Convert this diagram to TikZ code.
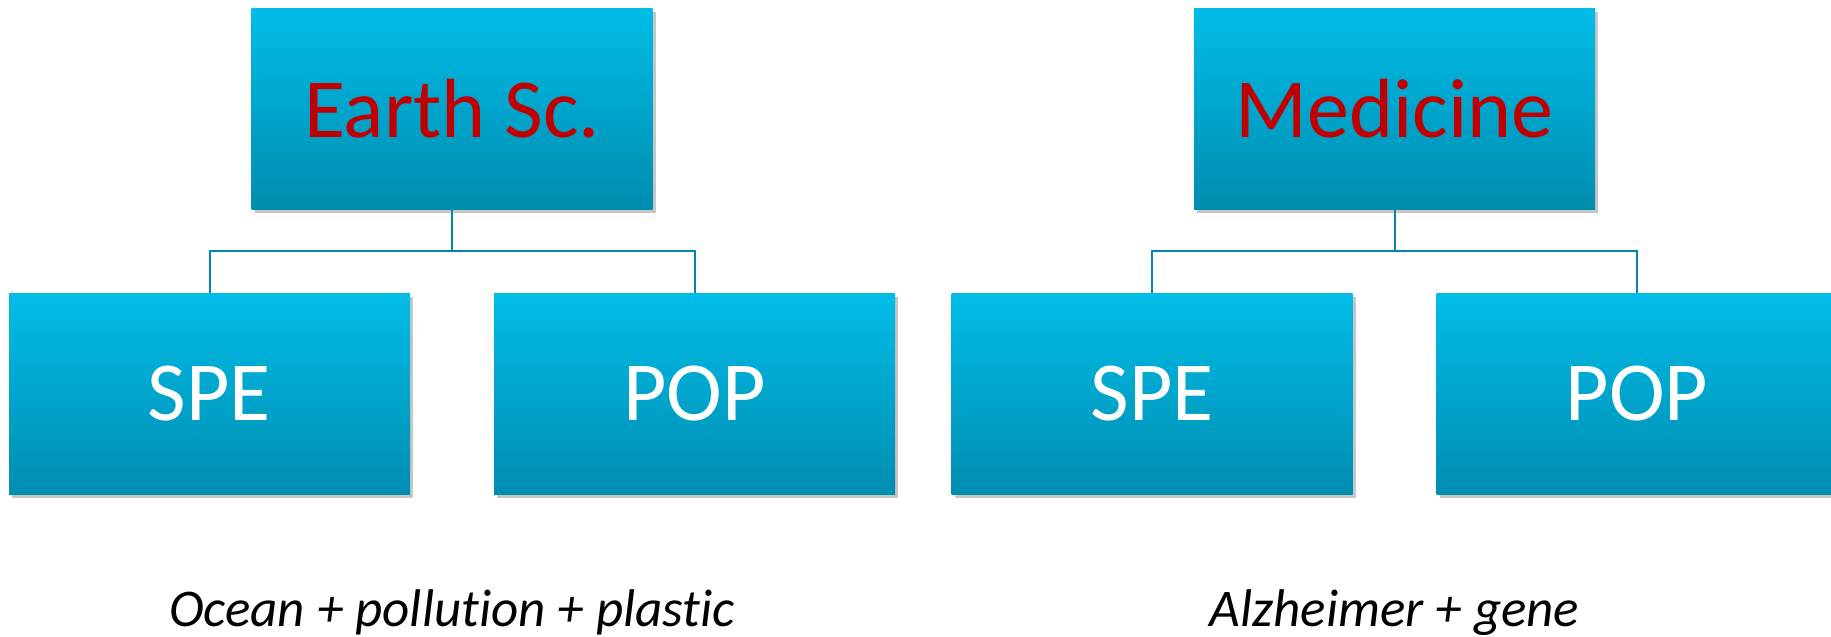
\documentclass[tikz,border=0pt]{standalone}
\usepackage{fontspec}
\setmainfont{Carlito}[Ligatures=NoCommon]
\usepackage{xcolor}
\usepackage{tikz}
\usetikzlibrary{positioning, shadows}
\definecolor{boxtop}{HTML}{00BDE8}
\definecolor{boxbottom}{HTML}{008DB0}
\definecolor{linkcol}{HTML}{0088A6}
\definecolor{headred}{HTML}{C00000}

\begin{document}
\begin{tikzpicture}[
    x=0.5pt, y=-0.5pt,
    box/.style={top color=boxtop, bottom color=boxbottom, minimum width=200.5pt, minimum height=100.5pt, inner sep=0pt,
        drop shadow={shadow xshift=1.5pt, shadow yshift=-2pt, opacity=0.22, fill=black}},
    head/.style={box, text=headred, font=\fontsize{42}{48}\selectfont},
    leaf/.style={box, text=white, font=\fontsize{42}{48}\selectfont},
    topic/.style={font=\fontsize{26.5}{32}\selectfont\itshape, anchor=base},
    link/.style={draw=linkcol, line width=1pt}
]
\useasboundingbox (0,0) rectangle (1831,637);

% Left tree
\node[head] (earth) at (452,108.5) {Earth Sc.};
\node[leaf] (espe) at (209.5,393.5) {SPE};
\node[leaf] (epop) at (694.5,393.5) {POP};

% Right tree
\node[head] (med) at (1394.5,108.5) {Medicine};
\node[leaf] (mspe) at (1152,393.5) {SPE};
\node[leaf] (mpop) at (1637,393.5) {POP};

% Connectors
\draw[link] (earth.south) -- ++(0,42) -| (espe.north);
\draw[link] (earth.south) -- ++(0,42) -| (epop.north);
\draw[link] (med.south) -- ++(0,42) -| (mspe.north);
\draw[link] (med.south) -- ++(0,42) -| (mpop.north);

% Search terms
\node[topic] (eterms) at (452,626) {Ocean + pollution + plastic};
\node[topic] (mterms) at (1394.5,626) {Alzheimer + gene};

\end{tikzpicture}
\end{document}
